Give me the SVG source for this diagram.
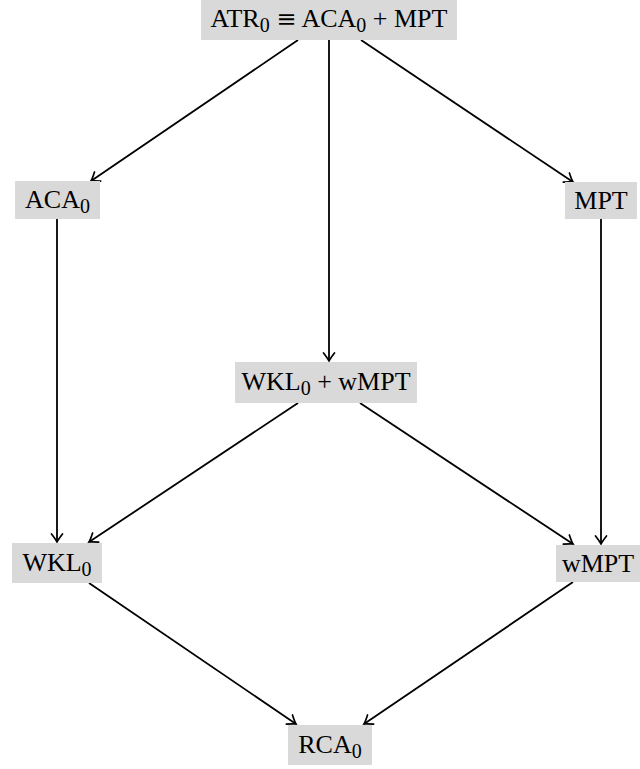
<svg xmlns="http://www.w3.org/2000/svg" width="640" height="769" viewBox="0 0 640 769">
<style>
.box{fill:#d9d9d9;stroke:none}
.lbl{font-family:"Liberation Serif","Times New Roman",serif;font-size:26px;fill:#000;text-anchor:middle}
.sub{font-size:20px}
.rel{font-family:"DejaVu Serif",serif;font-size:24px}
.edge{fill:none;stroke:#000;stroke-width:1.8;marker-end:url(#arr)}
</style>
<defs>
<marker id="arr" viewBox="-10 -7 12 14" markerWidth="12" markerHeight="14" refX="0" refY="0" orient="auto" markerUnits="userSpaceOnUse">
<path d="M-8,-5.5 Q-2.5,-1.2 0,0 Q-2.5,1.2 -8,5.5" fill="none" stroke="#000" stroke-width="1.7" stroke-linecap="round"/>
</marker>
</defs>
<rect width="640" height="769" fill="#fff"/>
<g id="connectors">
<line class="edge" x1="298" y1="40" x2="91" y2="181"/>
<line class="edge" x1="329" y1="40" x2="329" y2="361"/>
<line class="edge" x1="361" y1="40" x2="573" y2="182"/>
<line class="edge" x1="57" y1="219" x2="57" y2="542"/>
<line class="edge" x1="601" y1="219" x2="601" y2="544"/>
<line class="edge" x1="298" y1="403" x2="89" y2="542"/>
<line class="edge" x1="360" y1="403" x2="573" y2="544"/>
<line class="edge" x1="89" y1="583" x2="296" y2="724"/>
<line class="edge" x1="573" y1="582" x2="364" y2="724"/>
</g>
<g id="atr">
<rect class="box" x="201" y="0" width="256" height="40"/>
<text class="lbl" x="329" y="27">ATR<tspan class="sub" dy="5">0</tspan><tspan dy="-5"> </tspan><tspan class="rel">≡</tspan><tspan> ACA</tspan><tspan class="sub" dy="5">0</tspan><tspan dy="-5"> + MPT</tspan></text>
</g>
<g id="aca">
<rect class="box" x="15" y="181" width="85" height="38"/>
<text class="lbl" x="57.5" y="208">ACA<tspan class="sub" dy="5">0</tspan></text>
</g>
<g id="mpt">
<rect class="box" x="565" y="182" width="72" height="37"/>
<text class="lbl" x="601" y="209">MPT</text>
</g>
<g id="wklwmpt">
<rect class="box" x="235" y="362" width="182" height="41"/>
<text class="lbl" x="326" y="390">WKL<tspan class="sub" dy="5">0</tspan><tspan dy="-5"> + wMPT</tspan></text>
</g>
<g id="wkl">
<rect class="box" x="12" y="543" width="90" height="40"/>
<text class="lbl" x="57" y="571">WKL<tspan class="sub" dy="5">0</tspan></text>
</g>
<g id="wmpt">
<rect class="box" x="556" y="545" width="84" height="37"/>
<text class="lbl" x="598" y="572">wMPT</text>
</g>
<g id="rca">
<rect class="box" x="288" y="725" width="84" height="40"/>
<text class="lbl" x="330" y="753">RCA<tspan class="sub" dy="5">0</tspan></text>
</g>
</svg>
